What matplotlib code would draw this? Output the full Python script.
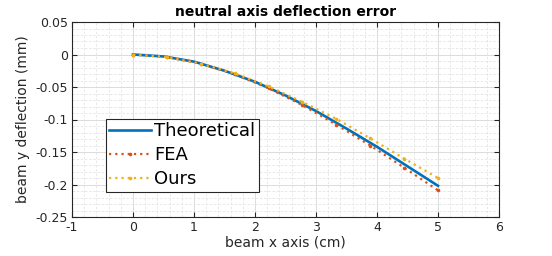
import matplotlib
matplotlib.use("Agg")
import matplotlib.pyplot as plt
from matplotlib.ticker import MultipleLocator

# Data
x_theory = [0, 0.5, 1.0, 1.5, 2.0, 2.5, 3.0, 3.5, 4.0, 4.5, 5.0]
y_theory = [0, -0.003, -0.011, -0.025, -0.042, -0.063, -0.087, -0.114, -0.142, -0.172, -0.202]

x_nodes = [0, 0.556, 1.111, 1.667, 2.222, 2.778, 3.333, 3.889, 4.444, 5.0]
y_fea = [0, -0.004, -0.014, -0.030, -0.052, -0.078, -0.108, -0.140, -0.174, -0.209]
y_ours = [0, -0.004, -0.014, -0.029, -0.049, -0.073, -0.099, -0.129, -0.160, -0.190]

labels = ["Theoretical", "FEA", "Ours"]
colors = ["#0072BD", "#D95319", "#EDB120"]

fig = plt.figure(figsize=(5.52, 2.56), dpi=100)
ax = fig.add_axes([72/552, 1-217/256, (499-72)/552, (217-22)/256])

ax.plot(x_theory, y_theory, '-', color=colors[0], lw=1.9, label=labels[0], zorder=3)
ax.plot(x_nodes, y_fea, ls=(0, (1, 1.8)), marker='.', markersize=3.2, color=colors[1], lw=1.6,
        label=labels[1], zorder=4)
ax.plot(x_nodes, y_ours, ls=(0, (1, 1.8)), marker='.', markersize=3.2, color=colors[2], lw=1.6,
        label=labels[2], zorder=4)

ax.set_xlim(-1, 6)
ax.set_ylim(-0.25, 0.05)
ax.xaxis.set_minor_locator(MultipleLocator(0.2))
ax.yaxis.set_minor_locator(MultipleLocator(0.01))
ax.set_yticks([0.05, 0, -0.05, -0.1, -0.15, -0.2, -0.25])
ax.set_yticklabels(["0.05", "0", "-0.05", "-0.1", "-0.15", "-0.2", "-0.25"])
ax.set_xticks([-1, 0, 1, 2, 3, 4, 5, 6])
ax.set_xticklabels(["-1", "0", "1", "2", "3", "4", "5", "6"])

ax.grid(which='major', color='#dcdcdc', lw=0.7, ls='-')
ax.grid(which='minor', color='#e4e4e4', lw=0.6, ls=(0, (3, 2)))
ax.set_axisbelow(True)

ax.tick_params(which='both', direction='in', top=True, right=True, labelsize=9,
               colors='#262626', labelcolor='#262626')
ax.tick_params(which='major', length=3.5, width=0.8, pad=3)
ax.tick_params(which='minor', length=0)
for s in ax.spines.values():
    s.set_color('#262626')
    s.set_linewidth(0.8)

ax.set_xlabel("beam x axis (cm)", fontsize=10, color='#262626', labelpad=1)
ax.set_ylabel("beam y deflection (mm)", fontsize=10, color='#262626', labelpad=4)
ax.set_title("neutral axis deflection error", fontsize=10, fontweight='bold', pad=4)

leg = ax.legend(loc='lower left', bbox_to_anchor=(0.079, 0.13), borderaxespad=0,
                fontsize=13, handlelength=2.3, handletextpad=0.2, labelspacing=0.33,
                borderpad=0.2, fancybox=False, framealpha=1, edgecolor='#262626')
leg.get_frame().set_linewidth(0.8)

fig.savefig("out.png", dpi=100)
